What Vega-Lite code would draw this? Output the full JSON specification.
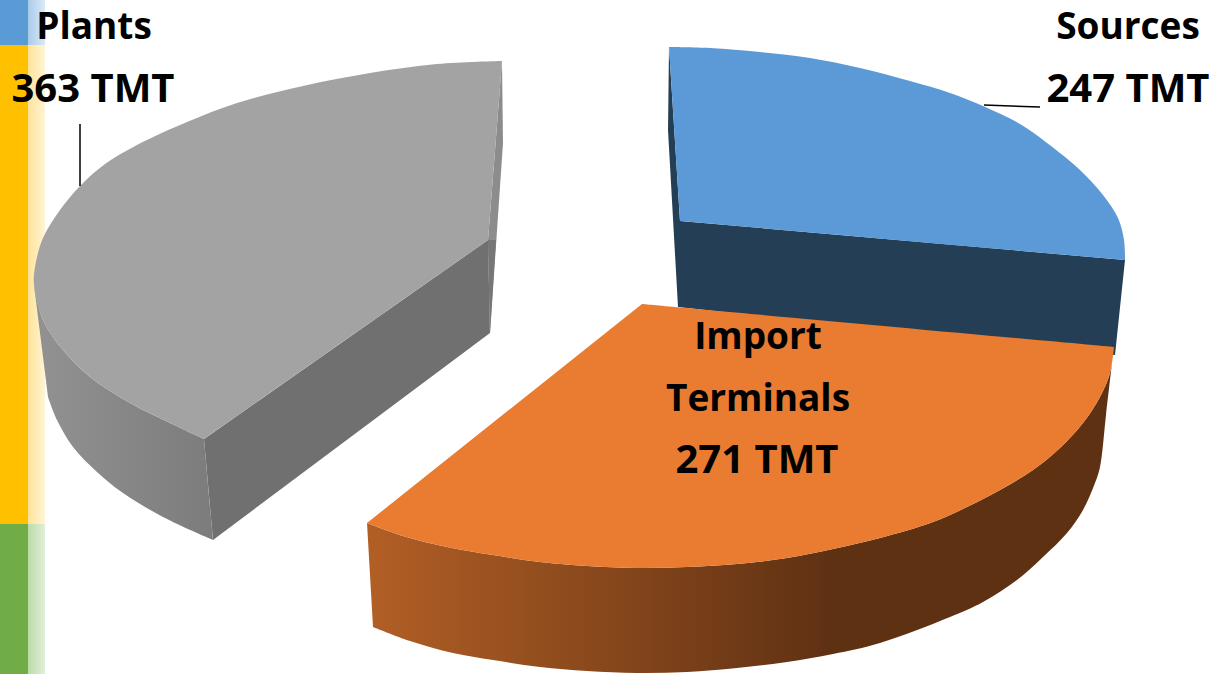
{
"$schema":"https://vega.github.io/schema/vega-lite/v6.json",
"width":1215,"height":674,"padding":0,
"autosize":{"type":"fit","contains":"padding"},
"background":"white",
"config":{"view":{"stroke":null}},
"datasets":{
"strip":[{"band":"a","x0":0,"x1":28,"y0":0,"y1":45},{"band":"b","x0":0,"x1":28,"y0":45,"y1":524},{"band":"c","x0":0,"x1":28,"y0":524,"y1":674}],
"stripBlue":[{"x0":28,"x1":45,"y0":0,"y1":45}],
"stripYellow":[{"x0":28,"x1":45,"y0":45,"y1":524}],
"stripGreen":[{"x0":28,"x1":45,"y0":524,"y1":674}],
"plantsWall":[{"seq":1,"x":34,"y":285},{"seq":2,"x":34,"y":285},{"seq":3,"x":43,"y":320},{"seq":4,"x":63,"y":350},{"seq":5,"x":90,"y":377},{"seq":6,"x":130,"y":403},{"seq":7,"x":170,"y":423},{"seq":8,"x":204,"y":439},{"seq":9,"x":204,"y":439},{"seq":10,"x":213,"y":540},{"seq":11,"x":213,"y":540},{"seq":12,"x":163,"y":517},{"seq":13,"x":123,"y":493},{"seq":14,"x":97,"y":472},{"seq":15,"x":73,"y":447},{"seq":16,"x":57,"y":420},{"seq":17,"x":48,"y":397},{"seq":18,"x":48,"y":397}],
"plantsSide":[{"seq":1,"x":204,"y":439},{"seq":2,"x":488,"y":240},{"seq":3,"x":490,"y":333},{"seq":4,"x":213,"y":540}],
"plantsEdge":[{"seq":1,"x":502,"y":61},{"seq":2,"x":503,"y":143},{"seq":3,"x":490,"y":333},{"seq":4,"x":488,"y":240}],
"plantsEdgeLow":[{"seq":1,"x":488,"y":240},{"seq":2,"x":496,"y":240},{"seq":3,"x":490,"y":333}],
"plantsTop":[{"seq":1,"x":502,"y":61},{"seq":2,"x":502,"y":61},{"seq":3,"x":437,"y":64},{"seq":4,"x":370,"y":73},{"seq":5,"x":303,"y":86},{"seq":6,"x":237,"y":103},{"seq":7,"x":187,"y":122},{"seq":8,"x":137,"y":145},{"seq":9,"x":105,"y":164},{"seq":10,"x":80,"y":186},{"seq":11,"x":60,"y":210},{"seq":12,"x":43,"y":238},{"seq":13,"x":35,"y":267},{"seq":14,"x":34,"y":285},{"seq":15,"x":43,"y":320},{"seq":16,"x":63,"y":350},{"seq":17,"x":90,"y":377},{"seq":18,"x":130,"y":403},{"seq":19,"x":170,"y":423},{"seq":20,"x":204,"y":439},{"seq":21,"x":204,"y":439},{"seq":22,"x":488,"y":240},{"seq":23,"x":488,"y":240}],
"sourcesSide":[{"seq":1,"x":669,"y":47},{"seq":2,"x":668,"y":130},{"seq":3,"x":678,"y":307},{"seq":4,"x":1115,"y":355},{"seq":5,"x":1125,"y":260},{"seq":6,"x":680,"y":221}],
"sourcesTop":[{"seq":1,"x":669,"y":47},{"seq":2,"x":669,"y":47},{"seq":3,"x":710,"y":48},{"seq":4,"x":760,"y":52},{"seq":5,"x":810,"y":58},{"seq":6,"x":860,"y":68},{"seq":7,"x":910,"y":81},{"seq":8,"x":950,"y":93},{"seq":9,"x":983,"y":106},{"seq":10,"x":1020,"y":124},{"seq":11,"x":1047,"y":143},{"seq":12,"x":1080,"y":170},{"seq":13,"x":1103,"y":195},{"seq":14,"x":1118,"y":218},{"seq":15,"x":1124,"y":240},{"seq":16,"x":1125,"y":260},{"seq":17,"x":1125,"y":260},{"seq":18,"x":680,"y":221},{"seq":19,"x":680,"y":221}],
"terminalsWall":[{"seq":1,"x":367,"y":523},{"seq":2,"x":367,"y":523},{"seq":3,"x":403,"y":536},{"seq":4,"x":447,"y":547},{"seq":5,"x":493,"y":555},{"seq":6,"x":540,"y":562},{"seq":7,"x":587,"y":566},{"seq":8,"x":637,"y":568},{"seq":9,"x":687,"y":567},{"seq":10,"x":737,"y":564},{"seq":11,"x":787,"y":558},{"seq":12,"x":833,"y":549},{"seq":13,"x":880,"y":538},{"seq":14,"x":933,"y":522},{"seq":15,"x":967,"y":507},{"seq":16,"x":1000,"y":490},{"seq":17,"x":1033,"y":470},{"seq":18,"x":1060,"y":448},{"seq":19,"x":1083,"y":423},{"seq":20,"x":1100,"y":397},{"seq":21,"x":1110,"y":373},{"seq":22,"x":1114,"y":347},{"seq":23,"x":1114,"y":347},{"seq":24,"x":1112,"y":363},{"seq":25,"x":1112,"y":363},{"seq":26,"x":1106,"y":415},{"seq":27,"x":1100,"y":467},{"seq":28,"x":1095,"y":483},{"seq":29,"x":1083,"y":510},{"seq":30,"x":1067,"y":533},{"seq":31,"x":1043,"y":557},{"seq":32,"x":1017,"y":580},{"seq":33,"x":983,"y":602},{"seq":34,"x":950,"y":617},{"seq":35,"x":880,"y":643},{"seq":36,"x":833,"y":654},{"seq":37,"x":787,"y":662},{"seq":38,"x":737,"y":668},{"seq":39,"x":687,"y":672},{"seq":40,"x":637,"y":673},{"seq":41,"x":587,"y":671},{"seq":42,"x":540,"y":667},{"seq":43,"x":493,"y":660},{"seq":44,"x":453,"y":653},{"seq":45,"x":410,"y":641},{"seq":46,"x":373,"y":627},{"seq":47,"x":373,"y":627}],
"terminalsTop":[{"seq":1,"x":642,"y":304},{"seq":2,"x":642,"y":304},{"seq":3,"x":1114,"y":347},{"seq":4,"x":1114,"y":347},{"seq":5,"x":1110,"y":373},{"seq":6,"x":1100,"y":397},{"seq":7,"x":1083,"y":423},{"seq":8,"x":1060,"y":448},{"seq":9,"x":1033,"y":470},{"seq":10,"x":1000,"y":490},{"seq":11,"x":967,"y":507},{"seq":12,"x":933,"y":522},{"seq":13,"x":880,"y":538},{"seq":14,"x":833,"y":549},{"seq":15,"x":787,"y":558},{"seq":16,"x":737,"y":564},{"seq":17,"x":687,"y":567},{"seq":18,"x":637,"y":568},{"seq":19,"x":587,"y":566},{"seq":20,"x":540,"y":562},{"seq":21,"x":493,"y":555},{"seq":22,"x":447,"y":547},{"seq":23,"x":403,"y":536},{"seq":24,"x":367,"y":523},{"seq":25,"x":367,"y":523}],
"leaderPlants":[{"seq":1,"x":80,"y":124},{"seq":2,"x":80,"y":186}],
"leaderSources":[{"seq":1,"x":984,"y":105},{"seq":2,"x":1040,"y":107}],
"labels":[
{"segment":"Plants","kind":"name","text":"Plants","x":94,"y":39},
{"segment":"Plants","kind":"amount","text":"363 TMT","x":93,"y":102},
{"segment":"Sources","kind":"name","text":"Sources","x":1128,"y":39},
{"segment":"Sources","kind":"amount","text":"247 TMT","x":1128,"y":102},
{"segment":"Import Terminals","kind":"name","text":"Import","x":758,"y":349},
{"segment":"Import Terminals","kind":"name","text":"Terminals","x":758,"y":411},
{"segment":"Import Terminals","kind":"amount","text":"271 TMT","x":757,"y":473}]
},
"encoding":{
"x":{"field":"x","type":"quantitative","scale":{"domain":[0,1215],"nice":false,"zero":false},"axis":null},
"y":{"field":"y","type":"quantitative","scale":{"domain":[674,0],"nice":false,"zero":false},"axis":null},
"order":{"field":"seq"}
},
"layer":[
{"data":{"name":"strip"},"mark":{"type":"rect"},"encoding":{"x":{"field":"x0","type":"quantitative"},"x2":{"field":"x1"},"y":{"field":"y0","type":"quantitative"},"y2":{"field":"y1"},"order":null,"color":{"field":"band","type":"nominal","legend":null,"scale":{"domain":["a","b","c"],"range":["#5b9bd5","#ffc000","#70ad47"]}}}},
{"data":{"name":"stripBlue"},"mark":{"type":"rect","color":{"gradient":"linear","x1":0,"x2":1,"y1":0,"y2":0,"stops":[{"offset":0,"color":"#a9cbea"},{"offset":1,"color":"#dce9f6"}]}},"encoding":{"x":{"field":"x0","type":"quantitative"},"x2":{"field":"x1"},"y":{"field":"y0","type":"quantitative"},"y2":{"field":"y1"},"order":null}},
{"data":{"name":"stripYellow"},"mark":{"type":"rect","color":{"gradient":"linear","x1":0,"x2":1,"y1":0,"y2":0,"stops":[{"offset":0,"color":"#ffe398"},{"offset":1,"color":"#fff4d6"}]}},"encoding":{"x":{"field":"x0","type":"quantitative"},"x2":{"field":"x1"},"y":{"field":"y0","type":"quantitative"},"y2":{"field":"y1"},"order":null}},
{"data":{"name":"stripGreen"},"mark":{"type":"rect","color":{"gradient":"linear","x1":0,"x2":1,"y1":0,"y2":0,"stops":[{"offset":0,"color":"#bcdaa8"},{"offset":1,"color":"#e2efd9"}]}},"encoding":{"x":{"field":"x0","type":"quantitative"},"x2":{"field":"x1"},"y":{"field":"y0","type":"quantitative"},"y2":{"field":"y1"},"order":null}},
{"data":{"name":"plantsWall"},"mark":{"type":"line","filled":true,"strokeWidth":0,"interpolate":"catmull-rom","fill":{"gradient":"linear","x1":0,"x2":1,"y1":0,"y2":0,"stops":[{"offset":0,"color":"#929292"},{"offset":1,"color":"#7c7c7c"}]}}},
{"data":{"name":"plantsSide"},"mark":{"type":"line","filled":true,"strokeWidth":0,"fill":"#707070"}},
{"data":{"name":"plantsEdge"},"mark":{"type":"line","filled":true,"strokeWidth":0,"fill":"#8c8c8c"}},
{"data":{"name":"plantsEdgeLow"},"mark":{"type":"line","filled":true,"strokeWidth":0,"fill":"#767676"}},
{"data":{"name":"plantsTop"},"mark":{"type":"line","filled":true,"strokeWidth":0,"interpolate":"catmull-rom","fill":"#a3a3a3"}},
{"data":{"name":"sourcesSide"},"mark":{"type":"line","filled":true,"strokeWidth":0,"fill":"#243f55"}},
{"data":{"name":"sourcesTop"},"mark":{"type":"line","filled":true,"strokeWidth":0,"interpolate":"catmull-rom","fill":"#5b9ad6"}},
{"data":{"name":"terminalsWall"},"mark":{"type":"line","filled":true,"strokeWidth":0,"interpolate":"catmull-rom","fill":{"gradient":"linear","x1":0,"x2":1,"y1":0,"y2":0,"stops":[{"offset":0,"color":"#b25f25"},{"offset":0.62,"color":"#5f3113"},{"offset":1,"color":"#5f3113"}]}}},
{"data":{"name":"terminalsTop"},"mark":{"type":"line","filled":true,"strokeWidth":0,"interpolate":"catmull-rom","fill":"#e97c30"}},
{"data":{"name":"leaderPlants"},"mark":{"type":"line","color":"black","strokeWidth":1.5}},
{"data":{"name":"leaderSources"},"mark":{"type":"line","color":"black","strokeWidth":1.5}},
{"data":{"name":"labels"},"transform":[{"filter":"datum.kind==='name'"}],"mark":{"type":"text","font":"Open Sans","fontWeight":"bold","fontSize":37,"align":"center","baseline":"alphabetic","color":"black"},"encoding":{"text":{"field":"text","type":"nominal"},"order":null}},
{"data":{"name":"labels"},"transform":[{"filter":"datum.kind==='amount'"}],"mark":{"type":"text","font":"Open Sans","fontWeight":"bold","fontSize":40,"align":"center","baseline":"alphabetic","color":"black"},"encoding":{"text":{"field":"text","type":"nominal"},"order":null}}
]
}
